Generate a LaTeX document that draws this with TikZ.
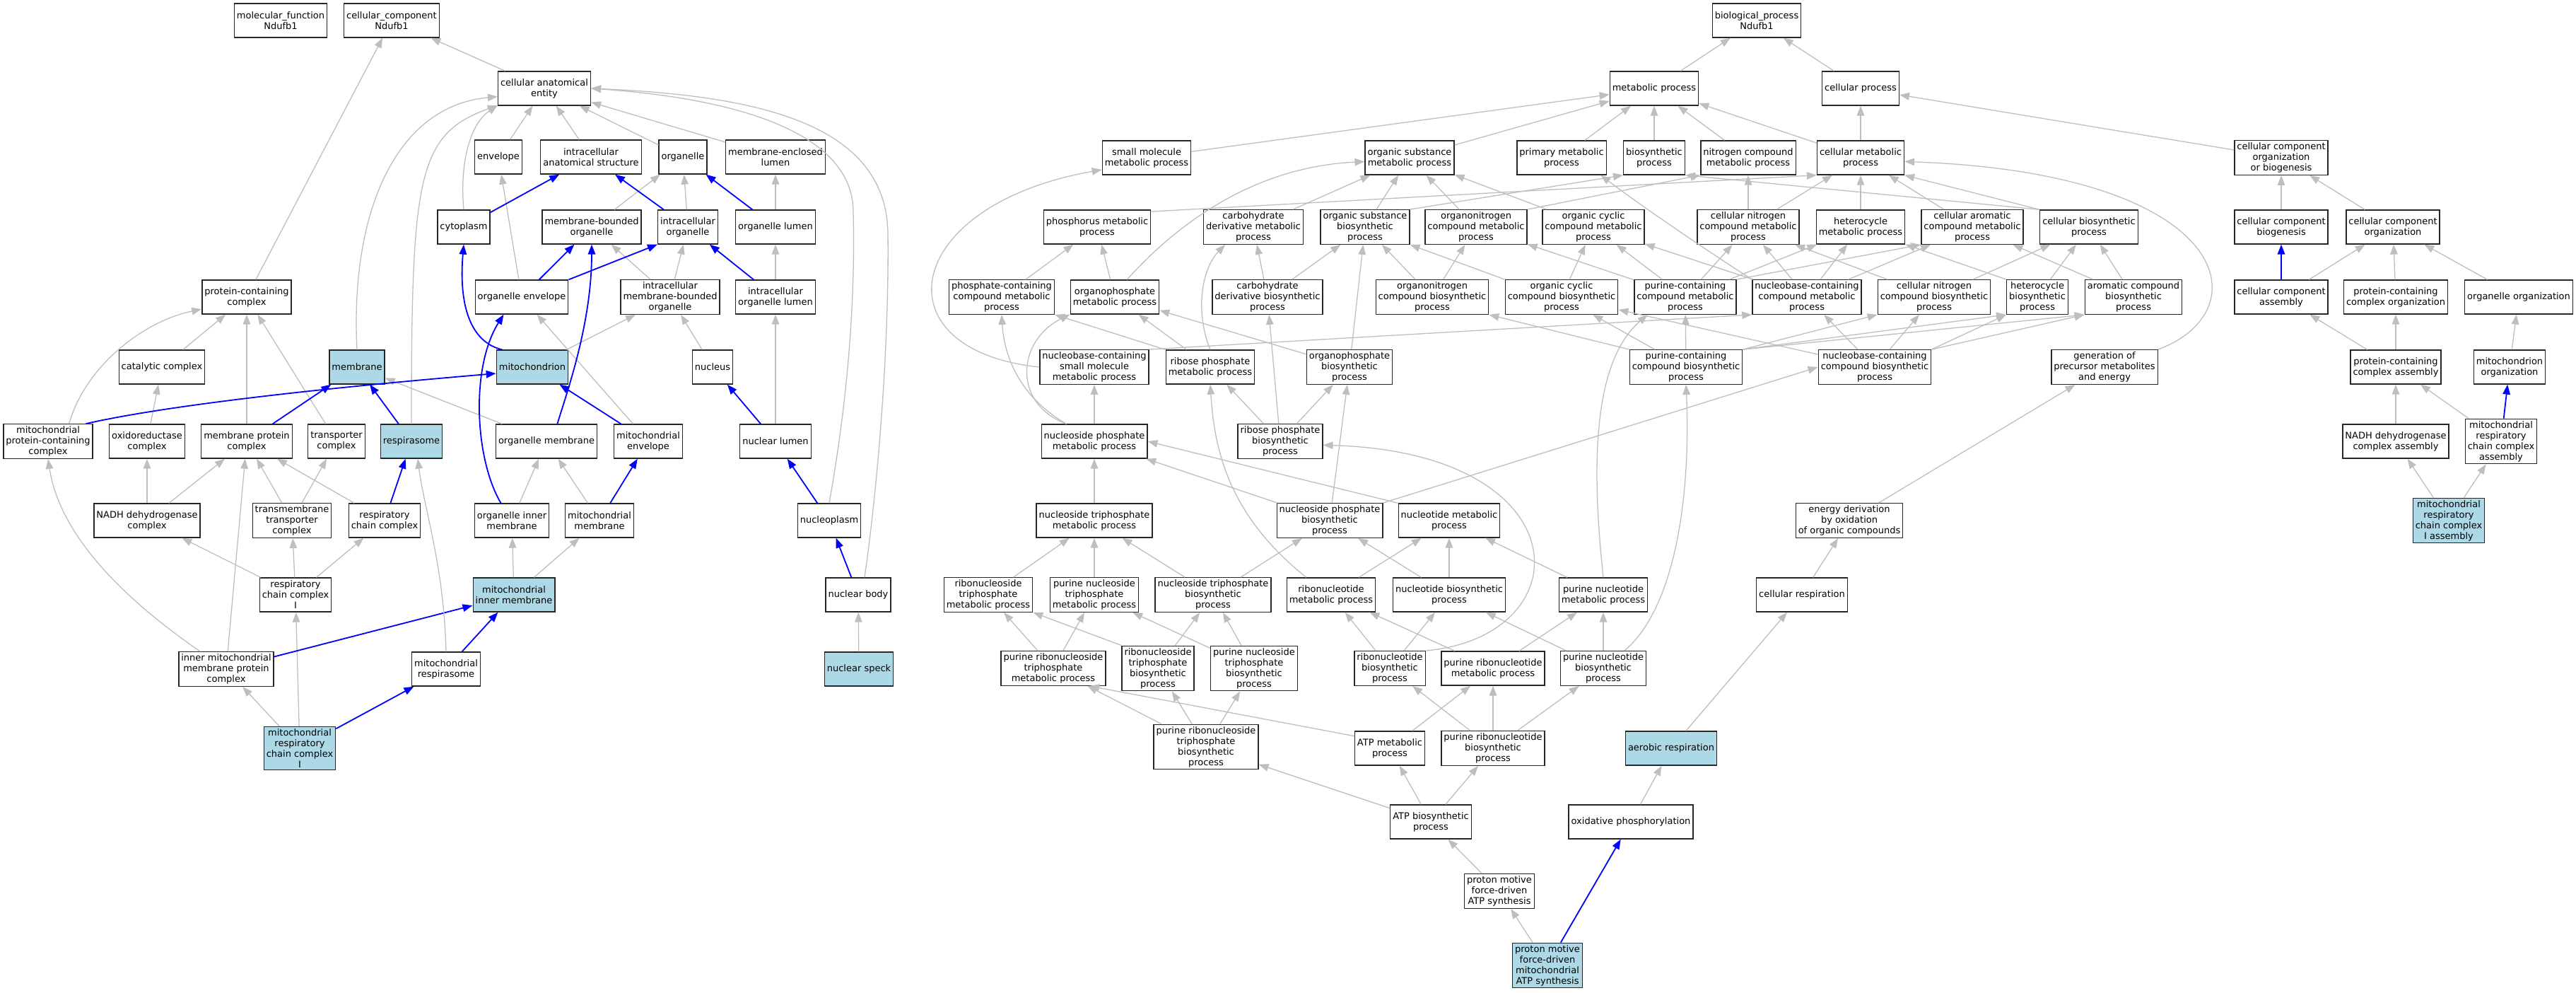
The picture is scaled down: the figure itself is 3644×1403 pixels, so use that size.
\documentclass[tikz,border=0pt]{standalone}
\usepackage{fontspec}
\setmainfont{DejaVu Sans}
\usetikzlibrary{arrows.meta}
\definecolor{edgegray}{HTML}{BEBEBE}
\definecolor{hitfill}{HTML}{ADD8E6}
\tikzset{
  go_term/.style={draw=black!85, line width=1.3pt, fill=white, align=center,
      inner xsep=3.5pt, inner ysep=3pt, minimum height=48pt,
      font=\fontsize{13}{15}\selectfont},
  go_hit/.style={go_term, fill=hitfill},
  is_a/.style={draw=edgegray, line width=1.3pt, -{Triangle[length=14pt,width=10.5pt]}},
  is_a_hit/.style={is_a, draw=blue, line width=1.8pt}
}
\begin{document}
\begin{tikzpicture}[x=1pt,y=1pt]
        \useasboundingbox (0,0) rectangle (3644,-1403);
        \node[go_term] (mf) at (397,-29) {molecular\_function\\Ndufb1};
        \node[go_term] (cc) at (554,-29) {cellular\_component\\Ndufb1};
        \node[go_term] (cae) at (770,-125) {cellular anatomical\\entity};
        \node[go_term] (envelope) at (705,-222) {envelope};
        \node[go_term] (ias) at (836,-222) {intracellular\\anatomical structure};
        \node[go_term] (organelle) at (966,-222) {organelle};
        \node[go_term] (mel) at (1097,-222) {membrane-enclosed\\lumen};
        \node[go_term] (cytoplasm) at (656,-321) {cytoplasm};
        \node[go_term] (mbo) at (837,-321) {membrane-bounded\\organelle};
        \node[go_term] (io) at (973,-321) {intracellular\\organelle};
        \node[go_term] (ol) at (1097,-321) {organelle lumen};
        \node[go_term] (pcc) at (349,-420) {protein-containing\\complex};
        \node[go_term] (oenv) at (738,-420) {organelle envelope};
        \node[go_term] (imbo) at (948,-420) {intracellular\\membrane-bounded\\organelle};
        \node[go_term] (iol) at (1097,-420) {intracellular\\organelle lumen};
        \node[go_term] (catc) at (229,-519) {catalytic complex};
        \node[go_hit] (membrane) at (505,-519) {membrane};
        \node[go_hit] (mito) at (753,-519) {mitochondrion};
        \node[go_term] (nucleus) at (1008,-519) {nucleus};
        \node[go_term] (mpcc) at (68,-624) {mitochondrial\\protein-containing\\complex};
        \node[go_term] (oxc) at (208,-624) {oxidoreductase\\complex};
        \node[go_term] (mpc) at (349,-624) {membrane protein\\complex};
        \node[go_term] (trc) at (476,-624) {transporter\\complex};
        \node[go_hit] (respirasome) at (582,-624) {respirasome};
        \node[go_term] (omem) at (773,-624) {organelle membrane};
        \node[go_term] (menv) at (917,-624) {mitochondrial\\envelope};
        \node[go_term] (nlumen) at (1097,-624) {nuclear lumen};
        \node[go_term] (nadhc) at (208,-736) {NADH dehydrogenase\\complex};
        \node[go_term] (tmtc) at (413,-736) {transmembrane\\transporter\\complex};
        \node[go_term] (rcc) at (544,-736) {respiratory\\chain complex};
        \node[go_term] (oim) at (724,-736) {organelle inner\\membrane};
        \node[go_term] (mmem) at (848,-736) {mitochondrial\\membrane};
        \node[go_term] (nucleoplasm) at (1173,-736) {nucleoplasm};
        \node[go_term] (rcc1) at (418,-841) {respiratory\\chain complex\\I};
        \node[go_hit] (mim) at (727,-841) {mitochondrial\\inner membrane};
        \node[go_term] (nbody) at (1214,-841) {nuclear body};
        \node[go_term] (immpc) at (320,-946) {inner mitochondrial\\membrane protein\\complex};
        \node[go_term] (mresp) at (631,-946) {mitochondrial\\respirasome};
        \node[go_hit] (nspeck) at (1215,-946) {nuclear speck};
        \node[go_hit] (mrcc1) at (424,-1058) {mitochondrial\\respiratory\\chain complex\\I};

        \node[go_term] (bp) at (2485,-29) {biological\_process\\Ndufb1};
        \node[go_term] (metab) at (2340,-125) {metabolic process};
        \node[go_term] (cellproc) at (2632,-125) {cellular process};
        \node[go_term] (smmp) at (1622,-223) {small molecule\\metabolic process};
        \node[go_term] (osmp) at (1994,-223) {organic substance\\metabolic process};
        \node[go_term] (pmp) at (2209,-223) {primary metabolic\\process};
        \node[go_term] (bsp) at (2340,-223) {biosynthetic\\process};
        \node[go_term] (ncmp) at (2473,-223) {nitrogen compound\\metabolic process};
        \node[go_term] (cmp) at (2632,-223) {cellular metabolic\\process};
        \node[go_term] (ccob) at (3227,-223) {cellular component\\organization\\or biogenesis};
        \node[go_term] (phmp) at (1552,-321) {phosphorus metabolic\\process};
        \node[go_term] (cdmp) at (1773,-321) {carbohydrate\\derivative metabolic\\process};
        \node[go_term] (osbp) at (1931,-321) {organic substance\\biosynthetic\\process};
        \node[go_term] (oncmp) at (2088,-321) {organonitrogen\\compound metabolic\\process};
        \node[go_term] (occmp) at (2254,-321) {organic cyclic\\compound metabolic\\process};
        \node[go_term] (cncmp) at (2473,-321) {cellular nitrogen\\compound metabolic\\process};
        \node[go_term] (hetmp) at (2632,-321) {heterocycle\\metabolic process};
        \node[go_term] (cacmp) at (2790,-321) {cellular aromatic\\compound metabolic\\process};
        \node[go_term] (cbp) at (2955,-321) {cellular biosynthetic\\process};
        \node[go_term] (ccbio) at (3227,-321) {cellular component\\biogenesis};
        \node[go_term] (cco) at (3385,-321) {cellular component\\organization};
        \node[go_term] (pccmp) at (1417,-420) {phosphate-containing\\compound metabolic\\process};
        \node[go_term] (opmp) at (1577,-420) {organophosphate\\metabolic process};
        \node[go_term] (cdbp) at (1793,-420) {carbohydrate\\derivative biosynthetic\\process};
        \node[go_term] (oncbp) at (2026,-420) {organonitrogen\\compound biosynthetic\\process};
        \node[go_term] (occbp) at (2209,-420) {organic cyclic\\compound biosynthetic\\process};
        \node[go_term] (pucmp) at (2384,-420) {purine-containing\\compound metabolic\\process};
        \node[go_term] (nbcmp) at (2556,-420) {nucleobase-containing\\compound metabolic\\process};
        \node[go_term] (cncbp) at (2736,-420) {cellular nitrogen\\compound biosynthetic\\process};
        \node[go_term] (hetbp) at (2882,-420) {heterocycle\\biosynthetic\\process};
        \node[go_term] (acbp) at (3018,-420) {aromatic compound\\biosynthetic\\process};
        \node[go_term] (ccasm) at (3227,-420) {cellular component\\assembly};
        \node[go_term] (pcco) at (3389,-420) {protein-containing\\complex organization};
        \node[go_term] (oorg) at (3563,-420) {organelle organization};
        \node[go_term] (nbsmmp) at (1548,-519) {nucleobase-containing\\small molecule\\metabolic process};
        \node[go_term] (rpmp) at (1712,-519) {ribose phosphate\\metabolic process};
        \node[go_term] (opbp) at (1909,-519) {organophosphate\\biosynthetic\\process};
        \node[go_term] (pucbp) at (2385,-519) {purine-containing\\compound biosynthetic\\process};
        \node[go_term] (nbcbp) at (2652,-519) {nucleobase-containing\\compound biosynthetic\\process};
        \node[go_term] (gpme) at (2977,-519) {generation of\\precursor metabolites\\and energy};
        \node[go_term] (pcca) at (3389,-519) {protein-containing\\complex assembly};
        \node[go_term] (morg) at (3550,-519) {mitochondrion\\organization};
        \node[go_term] (npmp) at (1548,-624) {nucleoside phosphate\\metabolic process};
        \node[go_term] (rpbp) at (1811,-624) {ribose phosphate\\biosynthetic\\process};
        \node[go_term] (nadhca) at (3389,-624) {NADH dehydrogenase\\complex assembly};
        \node[go_term] (mrcca) at (3538,-624) {mitochondrial\\respiratory\\chain complex\\assembly};
        \node[go_term] (ntpmp) at (1548,-736) {nucleoside triphosphate\\metabolic process};
        \node[go_term] (npbp) at (1881,-736) {nucleoside phosphate\\biosynthetic\\process};
        \node[go_term] (ntmp) at (2050,-736) {nucleotide metabolic\\process};
        \node[go_term] (edoc) at (2616,-736) {energy derivation\\by oxidation\\of organic compounds};
        \node[go_hit] (mrcc1a) at (3464,-736) {mitochondrial\\respiratory\\chain complex\\I assembly};
        \node[go_term] (rntpmp) at (1398,-841) {ribonucleoside\\triphosphate\\metabolic process};
        \node[go_term] (puntpmp) at (1548,-841) {purine nucleoside\\triphosphate\\metabolic process};
        \node[go_term] (ntpbp) at (1716,-841) {nucleoside triphosphate\\biosynthetic\\process};
        \node[go_term] (rnmp) at (1883,-841) {ribonucleotide\\metabolic process};
        \node[go_term] (ntbp) at (2050,-841) {nucleotide biosynthetic\\process};
        \node[go_term] (punmp) at (2268,-841) {purine nucleotide\\metabolic process};
        \node[go_term] (cresp) at (2549,-841) {cellular respiration};
        \node[go_term] (prntpmp) at (1490,-945) {purine ribonucleoside\\triphosphate\\metabolic process};
        \node[go_term] (rntpbp) at (1638,-945) {ribonucleoside\\triphosphate\\biosynthetic\\process};
        \node[go_term] (puntpbp) at (1774,-945) {purine nucleoside\\triphosphate\\biosynthetic\\process};
        \node[go_term] (rnbp) at (1966,-945) {ribonucleotide\\biosynthetic\\process};
        \node[go_term] (prnmp) at (2112,-945) {purine ribonucleotide\\metabolic process};
        \node[go_term] (punbp) at (2268,-945) {purine nucleotide\\biosynthetic\\process};
        \node[go_term] (prntpbp) at (1706,-1056) {purine ribonucleoside\\triphosphate\\biosynthetic\\process};
        \node[go_term] (atpmp) at (1966,-1058) {ATP metabolic\\process};
        \node[go_term] (prnbp) at (2112,-1058) {purine ribonucleotide\\biosynthetic\\process};
        \node[go_hit] (aresp) at (2364,-1058) {aerobic respiration};
        \node[go_term] (atpbp) at (2024,-1162) {ATP biosynthetic\\process};
        \node[go_term] (oxphos) at (2307,-1162) {oxidative phosphorylation};
        \node[go_term] (pmfatp) at (2121,-1260) {proton motive\\force-driven\\ATP synthesis};
        \node[go_hit] (pmfmatp) at (2189,-1365) {proton motive\\force-driven\\mitochondrial\\ATP synthesis};

        \foreach \c/\p in {pcc/cc, cae/cc, catc/pcc, mpc/pcc, trc/pcc, envelope/cae, ias/cae,
            organelle/cae, mel/cae, mbo/organelle, io/organelle, ol/mel, oenv/envelope,
            imbo/mbo, imbo/io, iol/ol, mito/imbo, nucleus/imbo, omem/membrane, menv/oenv,
            nlumen/iol, oxc/catc, nadhc/oxc, nadhc/mpc, immpc/mpc, tmtc/mpc, tmtc/trc,
            rcc/mpc, rcc1/nadhc, rcc1/tmtc, rcc1/rcc, oim/omem, mmem/omem, mim/oim,
            mim/mmem, mrcc1/immpc, mrcc1/rcc1, nspeck/nbody}
            \draw[is_a] (\c) -- (\p);
        \foreach \c/\p in {mpc/membrane, respirasome/membrane, cytoplasm/ias, io/ias,
            ol/organelle, oenv/mbo, oenv.north east/io.south west, iol/io, menv/mito,
            mmem/menv, nlumen/nucleus, nucleoplasm/nlumen, nbody/nucleoplasm, immpc/mim,
            mresp/mim, mrcc1/mresp, rcc/respirasome}
            \draw[is_a_hit] (\c) -- (\p);
        \draw[is_a] (mpcc.40) .. controls (120,-520) and (200,-455) .. (pcc.195);
        \draw[is_a] (membrane.north) .. controls (495,-300) and (560,-150) .. (cae.190);
        \draw[is_a] (respirasome.north) .. controls (582,-250) and (590,-190) .. (cae.200);
        \draw[is_a] (cytoplasm.north) .. controls (650,-230) and (665,-175) .. (cae.200);
        \draw[is_a] (mresp.north) .. controls (628,-800) and (600,-720) .. (respirasome.-70);
        \draw[is_a] (immpc.146) .. controls (180,-850) and (85,-760) .. (mpcc.south);
        \draw[is_a] (nucleoplasm.north) .. controls (1200,-560) and (1210,-420) .. (1207,-300)
            .. controls (1207,-190) and (1050,-140) .. (cae.east);
        \draw[is_a] (nbody.70) .. controls (1240,-700) and (1258,-500) .. (1256,-330)
            .. controls (1254,-170) and (1060,-135) .. (cae.east);
        \draw[is_a_hit] (mpcc.25) .. controls (250,-570) and (500,-545) .. (mito.190);
        \draw[is_a_hit] (mito.150) .. controls (670,-485) and (648,-440) .. (cytoplasm.south);
        \draw[is_a_hit] (omem.58) .. controls (800,-560) and (837,-460) .. (mbo.south);
        \draw[is_a_hit] (oim.122) .. controls (672,-650) and (665,-520) .. (oenv.224);

        \foreach \c/\p in {metab/bp, cellproc/bp, ccob/cellproc, smmp/metab, osmp/metab,
            pmp/metab, bsp/metab, ncmp/metab, cmp/metab, cmp/cellproc,
            phmp.16/cmp.south west, osbp.north east/bsp.south west,
            cbp.north west/bsp.south east, oncmp.north east/ncmp.south west, cncmp/ncmp,
            cncmp/cmp, hetmp/cmp, cacmp/cmp, cbp.north west/cmp.south east,
            cdmp/osmp, osbp/osmp, oncmp/osmp, occmp/osmp, pccmp/phmp, opmp/phmp,
            cdbp/cdmp, cdbp/osbp, opbp/osbp, oncbp/osbp, occbp.north west/osbp.south east,
            oncbp/oncmp, pucmp/oncmp, occbp/occmp, pucmp/occmp, nbcmp/occmp,
            pucmp/cncmp, nbcmp/cncmp, cncbp/cncmp, pucmp/hetmp, nbcmp/hetmp,
            hetbp.north west/hetmp.south east, pucmp.north east/cacmp.south west,
            nbcmp/cacmp, acbp/cacmp, cncbp/cbp, hetbp/cbp, acbp/cbp,
            rpmp.north west/pccmp.south east, rpmp/opmp, opbp/opmp,
            nbsmmp.north east/nbcmp.south west, npmp/nbsmmp,
            rpbp/cdbp, rpbp/rpmp, rpbp/opbp, npbp/opbp,
            pucbp.north west/oncbp.south east, pucbp/occbp, nbcbp/occbp, pucbp/pucmp,
            nbcbp/nbcmp, nbcbp/cncbp, nbcbp.north east/hetbp.south west,
            nbcbp.north east/acbp.south west, pucbp.north east/cncbp.south west,
            pucbp.north east/hetbp.south west, pucbp.north east/acbp.south west,
            ntpmp/npmp, ntmp.north west/npmp.east, npbp/npmp, npbp.north east/nbcbp.west,
            ntpbp/npbp, ntbp/npbp, rnmp/ntmp, ntbp/ntmp, punmp/ntmp,
            prnmp/rnmp, rnbp/rnmp, rnbp/ntbp, punbp/ntbp, prnmp/punmp, punbp/punmp,
            rntpmp/ntpmp, puntpmp/ntpmp, ntpbp/ntpmp,
            prntpmp/rntpmp, rntpbp.north west/rntpmp.south east,
            prntpmp/puntpmp, puntpbp/puntpmp, rntpbp/ntpbp, puntpbp/ntpbp,
            prntpbp/prntpmp, atpmp.161/prntpmp.-26, prntpbp/rntpbp, prntpbp/puntpbp,
            prnbp/rnbp, atpmp/prnmp, prnbp/prnmp, prnbp/punbp,
            atpbp/prntpbp, atpbp/atpmp, atpbp/prnbp, pmfatp/atpbp, pmfmatp/pmfatp,
            oxphos/aresp, aresp/cresp, cresp/edoc, edoc/gpme,
            ccbio/ccob, cco/ccob, ccasm/cco, pcco/cco, oorg/cco, pcca/ccasm, pcca/pcco,
            morg/oorg, nadhca/pcca, mrcca/pcca, mrcc1a/nadhca, mrcc1a/mrcca}
            \draw[is_a] (\c) -- (\p);
        \foreach \c/\p in {pmfmatp/oxphos, ccasm/ccbio, mrcca/morg}
            \draw[is_a_hit] (\c) -- (\p);
        \draw[is_a] (opmp.55) .. controls (1680,-300) and (1790,-235) .. (osmp.185);
        \draw[is_a] (nbcmp.north west) .. controls (2420,-358) and (2320,-290) .. (pmp.-24);
        \draw[is_a] (nbsmmp.west) .. controls (1240,-495) and (1275,-290) .. (smmp.195);
        \draw[is_a] (rpmp.north) .. controls (1690,-440) and (1700,-380) .. (cdmp.-148);
        \draw[is_a] (npmp.148) .. controls (1440,-560) and (1420,-500) .. (pccmp.south);
        \draw[is_a] (npmp.148) .. controls (1430,-570) and (1440,-480) .. (opmp.south west);
        \draw[is_a] (rnmp.145) .. controls (1740,-730) and (1718,-640) .. (rpmp.south);
        \draw[is_a] (punmp.north) .. controls (2250,-650) and (2255,-510) .. (pucmp.205);
        \draw[is_a] (punbp.40) .. controls (2370,-860) and (2392,-700) .. (pucbp.south);
        \draw[is_a] (rnbp.north east) .. controls (2240,-900) and (2240,-640) .. (rpbp.-5);
        \draw[is_a] (gpme.north east) .. controls (3200,-440) and (3160,-245) .. (cmp.-5);
      \end{tikzpicture}
\end{document}
